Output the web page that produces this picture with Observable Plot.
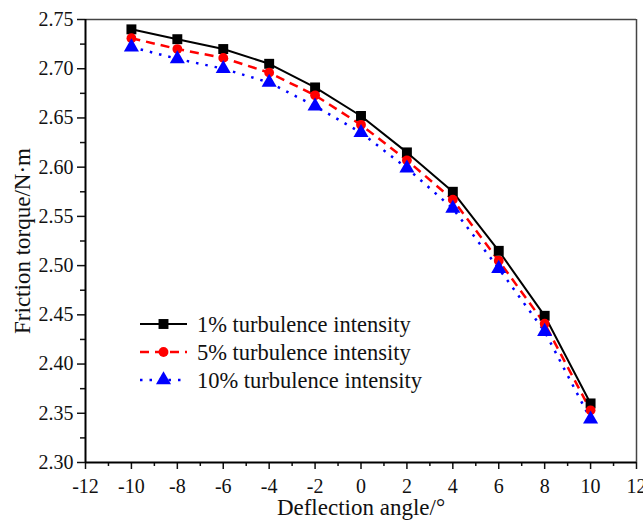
<!DOCTYPE html>
<html>
<head>
<meta charset="utf-8">
<script src="https://cdn.jsdelivr.net/npm/d3@7"></script>
<script src="https://cdn.jsdelivr.net/npm/@observablehq/plot@0.6"></script>
<style>
  html, body { margin: 0; padding: 0; background: #fff; }
  #wrap { position: relative; width: 643px; height: 523px; font-family: "Liberation Serif", "Times New Roman", serif; }
  #legend { position: absolute; left: 0; top: 0; }
</style>
</head>
<body>
<div id="wrap"></div>
<script>
const angles = [-10, -8, -6, -4, -2, 0, 2, 4, 6, 8, 10];
const torque1 = [2.740, 2.730, 2.720, 2.705, 2.681, 2.652, 2.615, 2.575, 2.515, 2.449, 2.360];
const torque5 = [2.731, 2.720, 2.711, 2.696, 2.673, 2.643, 2.607, 2.567, 2.505, 2.441, 2.353];
const torque10 = [2.722, 2.710, 2.700, 2.686, 2.662, 2.635, 2.599, 2.558, 2.497, 2.433, 2.344];
const seriesNames = ["1% turbulence intensity", "5% turbulence intensity", "10% turbulence intensity"];
const seriesColors = ["#000000", "#ff0000", "#0000ff"];
const seriesSymbols = ["square", "circle", "triangle"];
const seriesDash = [null, "9,6", "2.5,7"];
const xTicks = [-12, -10, -8, -6, -4, -2, 0, 2, 4, 6, 8, 10, 12];
const xMinor = [-11, -9, -7, -5, -3, -1, 1, 3, 5, 7, 9, 11];
const yTicks = [2.30, 2.35, 2.40, 2.45, 2.50, 2.55, 2.60, 2.65, 2.70, 2.75];
const yMinor = [2.325, 2.375, 2.425, 2.475, 2.525, 2.575, 2.625, 2.675, 2.725];

const allSeries = [torque1, torque5, torque10];
const data = allSeries.flatMap((vals, i) => vals.map((v, j) => ({x: angles[j], y: v, s: i})));

const symR = [5.6, 4.9, 5.6];

const marks = [];
marks.push(Plot.ruleY([2.75], {stroke: "#444", strokeWidth: 1.5}));
marks.push(Plot.ruleX([12], {stroke: "#444", strokeWidth: 1.5}));
allSeries.forEach((vals, i) => {
  const d = data.filter(r => r.s === i);
  marks.push(Plot.line(d, {x: "x", y: "y", stroke: seriesColors[i], strokeWidth: i === 0 ? 2 : 2.5, strokeDasharray: seriesDash[i], strokeLinecap: "butt"}));
});
allSeries.forEach((vals, i) => {
  const d = data.filter(r => r.s === i);
  marks.push(Plot.dot(d, {x: "x", y: "y", symbol: () => seriesSymbols[i], fill: seriesColors[i], stroke: "none", r: symR[i]}));
});
marks.push(Plot.axisX({ticks: xTicks, tickSize: 7, tickPadding: 9, tickFormat: d => String(d), label: "Deflection angle/°", labelAnchor: "center", labelArrow: "none", labelOffset: 52, fontSize: 20, strokeWidth: 1.5}));
marks.push(Plot.axisX({ticks: xMinor, tickSize: 4, text: null, label: null, strokeWidth: 1.5}));
marks.push(Plot.axisY({ticks: yTicks, tickSize: 8, tickPadding: 4, tickFormat: d => d.toFixed(2), label: "Friction torque/N·m", labelAnchor: "center", labelArrow: "none", labelOffset: 72, fontSize: 20, strokeWidth: 1.5}));
marks.push(Plot.axisY({ticks: yMinor, tickSize: 5, text: null, label: null, strokeWidth: 1.5}));
marks.push(Plot.ruleX([-12], {stroke: "#000", strokeWidth: 2}));
marks.push(Plot.ruleY([2.30], {stroke: "#000", strokeWidth: 2}));

const chart = Plot.plot({
  width: 643,
  height: 523,
  marginLeft: 85,
  marginRight: 7,
  marginTop: 19,
  marginBottom: 61,
  x: {domain: [-12, 12]},
  y: {domain: [2.30, 2.75]},
  style: {fontFamily: "'Liberation Serif', 'Times New Roman', serif", fontSize: "20px", color: "#111", background: "#fff", overflow: "visible"},
  marks
});
document.getElementById("wrap").appendChild(chart);
d3.select(chart).selectAll("g[aria-label='x-axis label'] text, g[aria-label='y-axis label'] text").style("font-size", "23px");

const lg = d3.select("#wrap").append("svg").attr("id", "legend").attr("width", 643).attr("height", 523);
const legX0 = 140, legX1 = 187, legTextX = 197, legY = [324, 352, 380];
seriesNames.forEach((name, i) => {
  const g = lg.append("g");
  g.append("line").attr("x1", legX0).attr("x2", legX1).attr("y1", legY[i]).attr("y2", legY[i])
    .attr("stroke", seriesColors[i]).attr("stroke-width", i === 0 ? 2 : 2.5)
    .attr("stroke-dasharray", seriesDash[i]);
  const sym = d3.symbol(seriesSymbols[i] === "square" ? d3.symbolSquare : seriesSymbols[i] === "circle" ? d3.symbolCircle : d3.symbolTriangle, Math.PI * symR[i] * symR[i]);
  g.append("path").attr("d", sym()).attr("transform", `translate(${(legX0 + legX1) / 2},${legY[i]})`).attr("fill", seriesColors[i]);
  g.append("text").attr("x", legTextX).attr("y", legY[i]).attr("dy", "0.35em")
    .attr("font-family", "'Liberation Serif', 'Times New Roman', serif").attr("font-size", 22.5).attr("fill", "#111").text(name);
});
</script>
</body>
</html>
